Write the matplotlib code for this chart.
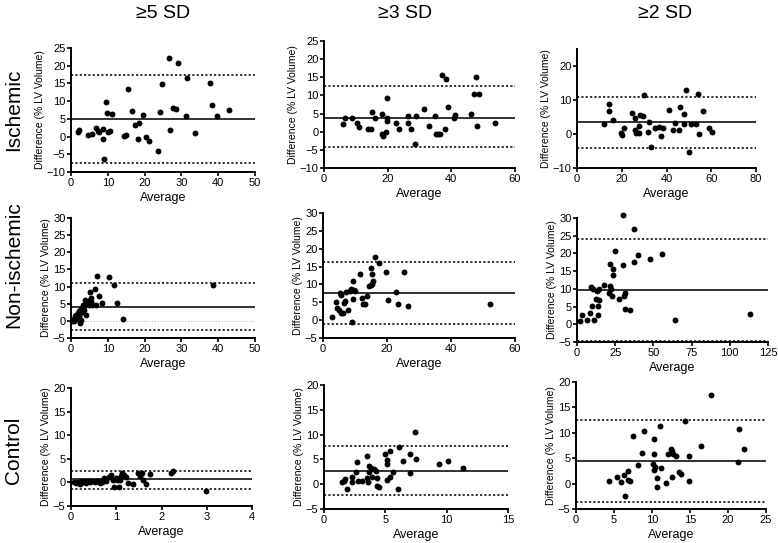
import numpy as np
import matplotlib.pyplot as plt

plt.rcParams['font.family'] = ['Liberation Sans', 'DejaVu Sans']

# Bland-Altman plots: rows = group, columns = SD threshold

col_titles = ['\u22655 SD', '\u22653 SD', '\u22652 SD']
row_titles = ['Ischemic', 'Non-ischemic', 'Control']

# Ischemic, >=5 SD
isc5_x = [2.0, 2.2, 4.5, 5.7, 6.9, 7.3, 7.7, 8.6, 8.7, 9.0, 9.4, 9.9, 11.1, 10.1, 10.7, 14.5, 15.0,
          15.4, 16.5, 17.4, 18.4, 18.2, 19.5, 20.3, 21.3, 23.6, 24.2, 24.8, 26.7, 26.8, 27.7, 28.6,
          29.0, 31.6, 31.2, 33.7, 37.8, 38.4, 39.7, 42.9]
isc5_y = [1.2, 1.8, 0.5, 0.8, 2.3, 1.6, 1.3, 2.1, -0.6, -6.4, 9.8, 6.7, 6.4, 1.2, 1.6, 0.1, 0.4,
          13.5, 7.3, 3.3, 3.9, -0.6, 6.1, -0.2, -1.3, -4.0, 7.0, 14.9, 22.3, 1.9, 8.2, 7.7,
          20.8, 16.5, 5.7, 0.9, 15.0, 8.9, 5.9, 7.5]
isc5_lines = [5.0, 17.5, -7.4]

# Ischemic, >=3 SD
isc3_x = [6.0, 6.6, 8.7, 10.3, 11.0, 13.9, 14.9, 15.1, 15.9, 18.3, 18.3, 18.5, 19.4, 19.7, 19.7,
          19.9, 22.5, 23.7, 26.4, 26.5, 27.2, 28.5, 28.9, 31.3, 33.1, 34.8, 35.2, 35.9, 36.4, 37.1,
          38.4, 38.0, 39.1, 40.8, 41.1, 47.7, 46.1, 47.2, 48.7, 48.2, 53.6]
isc3_y = [2.1, 3.8, 3.7, 2.4, 1.2, 0.8, 0.7, 5.5, 3.9, 5.0, -0.7, -1.3, -0.1, 3.8, 3.0,
          9.4, 2.4, 0.7, 4.4, 2.5, 0.8, -3.4, 4.2, 6.3, 1.5, 4.4, -0.5, -0.5, -0.5, 15.6,
          14.4, 0.8, 6.8, 3.9, 4.7, 15.0, 5.0, 10.3, 10.3, 1.6, 2.5]
isc3_lines = [3.9, 12.5, -4.3]

# Ischemic, >=2 SD
isc2_x = [12.2, 14.3, 14.3, 16.1, 19.7, 20.3, 21.2, 24.8, 25.7, 26.0, 26.4, 27.8, 27.9, 28.2, 29.7,
          30.0, 32.0, 31.7, 33.2, 35.0, 36.6, 37.5, 38.4, 41.3, 43.0, 44.0, 45.5, 46.1, 47.6, 47.9,
          48.8, 50.0, 51.1, 53.3, 53.9, 54.7, 56.5, 59.0, 60.4]
isc2_y = [2.9, 8.7, 6.7, 4.0, 0.2, -0.2, 1.9, 6.1, 4.7, 1.3, 0.4, 2.3, 0.4, 5.6, 5.4,
          11.5, 3.5, 0.6, -3.9, 1.9, 2.1, -0.6, 1.7, 7.1, 1.2, 3.1, 1.2, 7.9, 5.8, 3.0,
          12.9, -5.4, 2.9, 3.0, 11.8, 0.0, 6.7, 1.8, 0.7]
isc2_lines = [3.4, 10.9, -4.1]

# Non-ischemic, >=5 SD
non5_x = [0.3, 0.5, 0.7, 0.9, 1.1, 1.3, 1.4, 1.6, 1.8, 2.1, 2.3, 2.4, 2.6, 2.8, 2.9, 3.1, 3.3,
          3.4, 3.6, 3.8, 4.0, 4.2, 4.5, 4.8, 5.1, 5.2, 5.3, 5.5, 5.8, 6.6, 6.8, 7.2, 7.6, 8.3,
          10.4, 11.8, 12.4, 14.0, 38.7]
non5_y = [-0.1, 0.3, 0.6, 0.1, 1.3, 0.5, 1.7, 1.0, 2.3, 2.8, 1.3, -0.6, 3.5, 0.3, 2.5, 3.8, 4.7,
          3.3, 4.2, 6.0, 1.7, 4.9, 5.2, 4.7, 6.0, 8.5, 5.4, 6.6, 4.5, 9.3, 4.7, 13.0, 7.2, 5.2,
          12.7, 10.6, 5.2, 0.4, 10.6]
non5_lines = [4.1, 10.9, -2.8]

# Non-ischemic, >=3 SD
non3_x = [2.8, 4.2, 4.4, 4.9, 5.4, 5.7, 5.5, 6.3, 6.6, 6.8, 7.3, 7.9, 8.4, 8.9, 9.2, 9.3, 9.5,
          9.7, 10.1, 11.5, 12.1, 12.5, 13.2, 13.9, 14.3, 14.9, 15.0, 15.4, 15.7, 15.4, 16.2, 17.5,
          19.6, 20.4, 22.9, 23.4, 25.4, 26.7, 52.2]
non3_y = [0.8, 5.1, 3.5, 2.9, 7.7, 7.0, 2.1, 2.0, 4.8, 5.3, 7.8, 2.9, 8.3, 8.7, -0.6, 11.0, 5.8,
          8.5, 8.3, 12.9, 6.2, 4.6, 4.5, 6.9, 9.6, 9.9, 14.5, 13.0, 11.0, 10.2, 17.7, 16.0,
          13.4, 5.6, 7.8, 4.6, 13.4, 3.9, 4.5]
non3_lines = [7.6, 16.2, -1.1]

# Non-ischemic, >=2 SD
non2_x = [2.2, 3.3, 6.5, 8.7, 9.1, 9.8, 10.4, 10.9, 12.4, 13.0, 13.5, 13.5, 14.1, 14.6, 17.4, 20.7,
          21.3, 21.7, 22.4, 22.8, 23.5, 23.5, 24.6, 27.4, 30.0, 30.4, 30.9, 31.3, 31.7, 35.0, 37.4,
          37.4, 40.2, 47.8, 55.4, 64.3, 113.0]
non2_y = [0.8, 2.7, 1.1, 3.3, 10.5, 5.1, 10.1, 1.1, 7.1, 9.4, 5.1, 2.7, 10.1, 6.8, 11.2, 8.7,
          17.1, 10.8, 10.1, 7.9, 15.5, 14.0, 20.7, 7.0, 16.7, 30.9, 7.9, 4.4, 8.9, 4.1, 26.8,
          17.6, 19.5, 18.5, 19.7, 1.2, 3.0]
non2_lines = [9.8, 24.0, -4.6]

# Control, >=5 SD
con5_x = [0.06, 0.10, 0.15, 0.19, 0.22, 0.27, 0.29, 0.34, 0.37, 0.41, 0.46, 0.52, 0.57, 0.63, 0.66,
          0.69, 0.72, 0.74, 0.78, 0.85, 0.89, 0.93, 0.96, 0.99, 1.02, 1.05, 1.08, 1.10, 1.13, 1.18,
          1.22, 1.26, 1.38, 1.47, 1.52, 1.57, 1.59, 1.66, 1.74, 2.21, 2.25, 2.99]
con5_y = [0.0, -0.1, 0.1, -0.3, 0.2, 0.0, 0.4, -0.1, 0.2, 0.0, 0.2, 0.0, 0.2, -0.1, 0.4,
          0.0, 0.6, 0.9, 0.3, 1.2, 1.6, 0.6, -0.9, 1.0, 0.5, -1.0, 0.6, 1.4, 1.9, 1.6,
          1.2, -0.1, -0.3, 1.9, 1.4, 1.9, 0.6, -0.3, 1.8, 2.0, 2.4, -1.8]
con5_lines = [0.7, 2.5, -1.3]

# Control, >=3 SD
con3_x = [1.47, 1.6, 1.7, 1.9, 2.3, 2.3, 2.6, 2.7, 2.8, 3.1, 3.5, 3.5, 3.6, 3.7, 3.7, 3.8, 3.9,
          4.1, 4.2, 4.3, 4.3, 4.5, 5.0, 5.1, 5.1, 5.1, 5.4, 5.4, 5.6, 6.0, 6.1, 6.4, 7.0, 7.0,
          7.4, 7.5, 9.4, 10.1, 11.3]
con3_y = [0.4, 0.7, 1.0, -1.0, 1.5, 0.5, 2.4, 4.4, 0.7, 0.7, 5.6, 1.3, 0.4, 3.7, 2.5, 3.2, 1.5,
          3.0, 2.7, 1.3, -0.3, -0.5, 6.0, 4.8, 4.0, 0.9, 1.5, 6.6, 2.5, -1.0, 7.4, 4.7, 6.0, 2.3,
          10.5, 5.1, 4.0, 4.7, 3.2]
con3_lines = [2.7, 7.7, -2.2]

# Control, >=2 SD
con2_x = [4.4, 5.4, 5.9, 6.3, 6.4, 6.9, 6.9, 7.1, 7.5, 8.2, 8.7, 8.9, 10.2, 10.1, 10.3, 10.3, 10.4,
          10.6, 10.7, 11.0, 11.2, 11.8, 12.1, 12.5, 12.6, 12.6, 12.8, 13.2, 13.5, 13.8, 14.3, 14.9,
          14.9, 16.5, 17.8, 21.5, 21.3, 22.1]
con2_y = [0.5, 1.3, 0.3, 1.6, -2.5, 2.4, 0.7, 0.5, 9.4, 3.7, 6.0, 10.4, 8.7, 3.9, 5.8, 2.6, 3.2,
          -0.6, 1.2, 11.3, 3.0, 0.2, 5.8, 6.9, 6.4, 1.3, 5.9, 5.5, 2.3, 1.9, 12.4, 5.5,
          0.6, 7.4, 17.4, 10.7, 4.3, 6.9]
con2_lines = [4.4, 12.6, -3.7]

panels = [
    [(isc5_x, isc5_y, isc5_lines), (isc3_x, isc3_y, isc3_lines), (isc2_x, isc2_y, isc2_lines)],
    [(non5_x, non5_y, non5_lines), (non3_x, non3_y, non3_lines), (non2_x, non2_y, non2_lines)],
    [(con5_x, con5_y, con5_lines), (con3_x, con3_y, con3_lines), (con2_x, con2_y, con2_lines)],
]

# axis limits / ticks per panel
xlims = [[(0, 50, 10), (0, 60, 20), (0, 80, 20)],
         [(0, 50, 10), (0, 60, 20), (0, 125, 25)],
         [(0, 4, 1), (0, 15, 5), (0, 25, 5)]]
ylims = [[(-10, 25, 5), (-10, 25, 5), (-10, 25, 10)],
         [(-5, 30, 5), (-5, 30, 5), (-5, 30, 5)],
         [(-5, 20, 5), (-5, 20, 5), (-5, 20, 5)]]

# pixel boxes (left, right, top, bottom)
W, H = 778, 543
boxes = [[(71, 255, 48, 172), (324, 515, 41, 168), (577, 756, 49, 168)],
         [(71, 255, 218, 338), (323, 515, 213, 338), (577, 768, 218, 342)],
         [(71, 252, 388, 506), (324, 508, 385, 509), (576, 766, 382, 509)]]

fig = plt.figure(figsize=(W / 100, H / 100), dpi=100)

for r in range(3):
    for c in range(3):
        l, rt, t, b = boxes[r][c]
        ax = fig.add_axes([l / W, 1 - b / H, (rt - l) / W, (b - t) / H])
        x, y, (mean, hi, lo) = panels[r][c]
        x0, x1, xs = xlims[r][c]
        y0, y1, ys = ylims[r][c]
        ax.set_xlim(x0, x1)
        ax.set_ylim(y0, y1)
        ax.set_xticks(np.arange(x0, x1 + xs / 2, xs))
        ax.set_yticks(np.arange(y0, y1 + ys / 2, ys))
        if r == 1 and c == 0:
            ax.axhline(0, color='#bbbbbb', lw=0.8, ls=(0, (1, 1.5)), zorder=1)
        ax.axhline(mean, color='#222222', lw=1.3, zorder=2)
        ax.axhline(hi, color='#222222', lw=1.3, ls=(0, (1.2, 1.2)), zorder=2)
        ax.axhline(lo, color='#222222', lw=1.3, ls=(0, (1.2, 1.2)), zorder=2)
        ax.scatter(x, y, s=18, color='black', linewidths=0, zorder=3, clip_on=False)
        for s in ['top', 'right']:
            ax.spines[s].set_visible(False)
        for s in ['left', 'bottom']:
            ax.spines[s].set_linewidth(1.4)
        ax.tick_params(direction='out', length=3, width=1.2, labelsize=8, pad=1)
        ax.set_ylabel('Difference (% LV Volume)', fontsize=7.5, labelpad=1)
        ax.set_xlabel('Average', fontsize=9, labelpad=3)

for c, t in enumerate(col_titles):
    cx = [163, 405, 665][c]
    fig.text(cx / W, 1 - 13 / H, t, fontsize=14, ha='center', va='center')

for r, t in enumerate(row_titles):
    cy = [110, 265, 450][r]
    fig.text(14 / W, 1 - cy / H, t, fontsize=15, rotation=90, ha='center', va='center')

plt.savefig('out.png', dpi=100)
